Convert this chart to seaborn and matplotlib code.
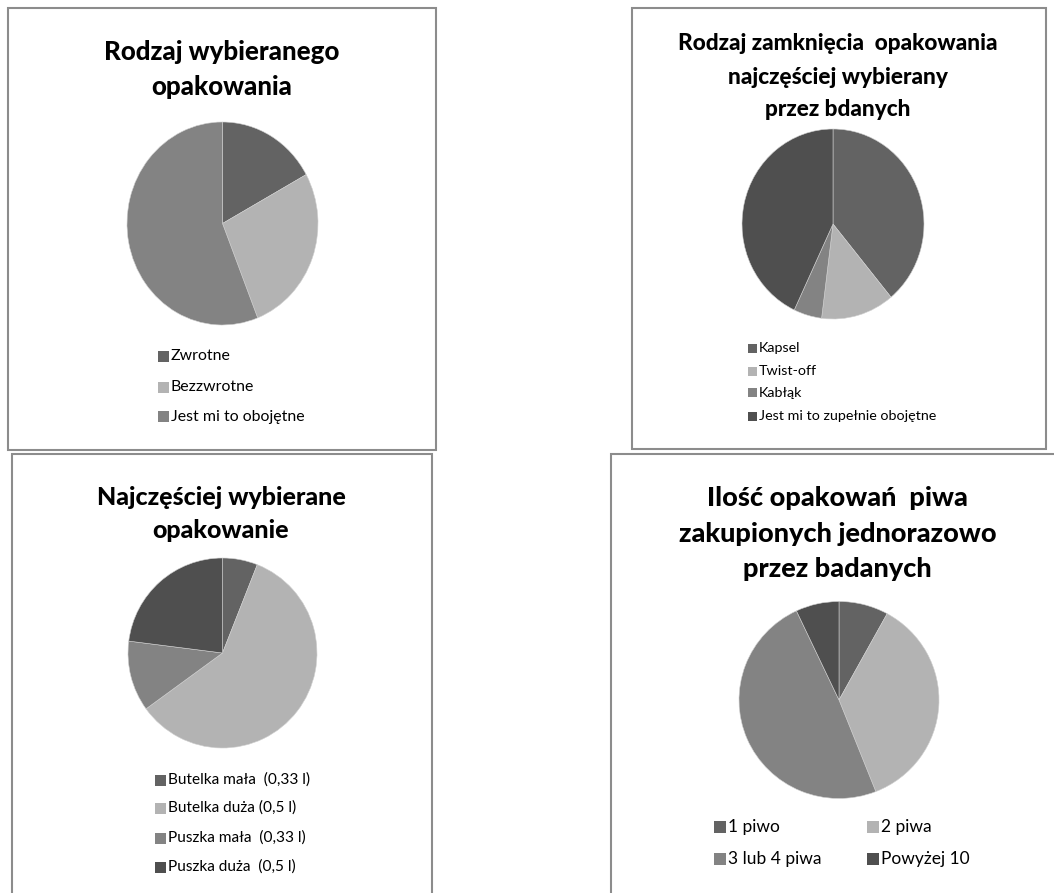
import matplotlib
matplotlib.use("Agg")
import matplotlib.pyplot as plt
from matplotlib.patches import Rectangle
import seaborn as sns

sns.set_theme(style="white")
plt.rcParams["font.family"] = ["Lato", "DejaVu Sans"]

W, H = 1054, 893

# --- data -------------------------------------------------------------
pack_labels = ["Zwrotne", "Bezzwrotne", "Jest mi to obojętne"]
pack_values = [17, 27, 56]

closure_labels = ["Kapsel", "Twist-off", "Kabłąk", "Jest mi to zupełnie obojętne"]
closure_values = [39, 13, 5, 43]

size_labels = ["Butelka mała  (0,33 l)", "Butelka duża (0,5 l)",
               "Puszka mała  (0,33 l)", "Puszka duża  (0,5 l)"]
size_values = [6, 59, 12, 23]

count_labels = ["1 piwo", "2 piwa", "3 lub 4 piwa", "Powyżej 10"]
count_values = [8, 36, 49, 7]

titles = [
    ["Rodzaj wybieranego", "opakowania"],
    ["Rodzaj zamknięcia  opakowania", "najczęściej wybierany", "przez bdanych"],
    ["Najczęściej wybierane", "opakowanie"],
    ["Ilość opakowań  piwa", "zakupionych jednorazowo", "przez badanych"],
]

greys = ["#636363", "#b3b3b3", "#838383", "#4f4f4f"]
sns.set_palette(greys)

fig = plt.figure(figsize=(W / 100, H / 100), dpi=100)
fig.patch.set_facecolor("white")


def fx(px):
    return px / W


def fy(py):
    return 1 - py / H


def frame(x0, y0, x1, y1):
    fig.patches.append(Rectangle((fx(x0), fy(y1)), fx(x1) - fx(x0), fy(y0) - fy(y1),
                                 transform=fig.transFigure, fill=False,
                                 edgecolor="#8c8c8c", linewidth=1.5, zorder=0))


def pie(values, cx, cy, rx, ry):
    ax = fig.add_axes([fx(cx - rx), fy(cy + ry), fx(2 * rx), 2 * ry / H])
    ax.pie(values, colors=greys[:len(values)], startangle=90, counterclock=False,
           radius=1, wedgeprops=dict(edgecolor="#d0d0d0", linewidth=0.4))
    ax.set_xlim(-1, 1)
    ax.set_ylim(-1, 1)
    ax.set_aspect("auto")
    ax.axis("off")


def title(lines, cx, baselines, size):
    for line, b in zip(lines, baselines):
        fig.text(fx(cx), fy(b), line, ha="center", va="baseline",
                 fontsize=size, fontweight="black", color="black")


def legend(labels, colors, x, ys, size, box):
    for lab, col, y in zip(labels, colors, ys):
        fig.patches.append(Rectangle((fx(x), fy(y + box / 2)), box / W, box / H,
                                     transform=fig.transFigure, facecolor=col,
                                     edgecolor="none"))
        fig.text(fx(x + box + 2), fy(y), lab, ha="left", va="center",
                 fontsize=size, color="black")


# panel frames
frame(8, 8, 436, 450)
frame(632, 8, 1046, 449)
frame(12, 454, 432, 900)
frame(611, 454, 1070, 900)

# top-left
title(titles[0], 222, [60, 95], 18.6)
pie(pack_values, 222.5, 223.5, 95.5, 101.5)
legend(pack_labels, greys, 158, [356, 387, 417], 11.4, 11)

# top-right
title(titles[1], 838, [50, 84, 116], 16.3)
pie(closure_values, 833, 224, 91, 95)
legend(closure_labels, greys, 748, [348, 371, 393, 416], 10.3, 9)

# bottom-left
title(titles[2], 221, [505, 538], 18)
pie(size_values, 222.5, 653, 94.5, 95)
legend(size_labels, greys, 155, [780, 808, 838, 867], 11.1, 11)

# bottom-right
title(titles[3], 837.5, [506, 542, 577], 19.5)
pie(count_values, 839, 700, 100, 98.5)
legend(count_labels[0::2], greys[0::2], 714, [827, 859], 12.5, 12)
legend(count_labels[1::2], greys[1::2], 867, [827, 859], 12.5, 12)

fig.savefig("out.png", dpi=100, facecolor="white")
